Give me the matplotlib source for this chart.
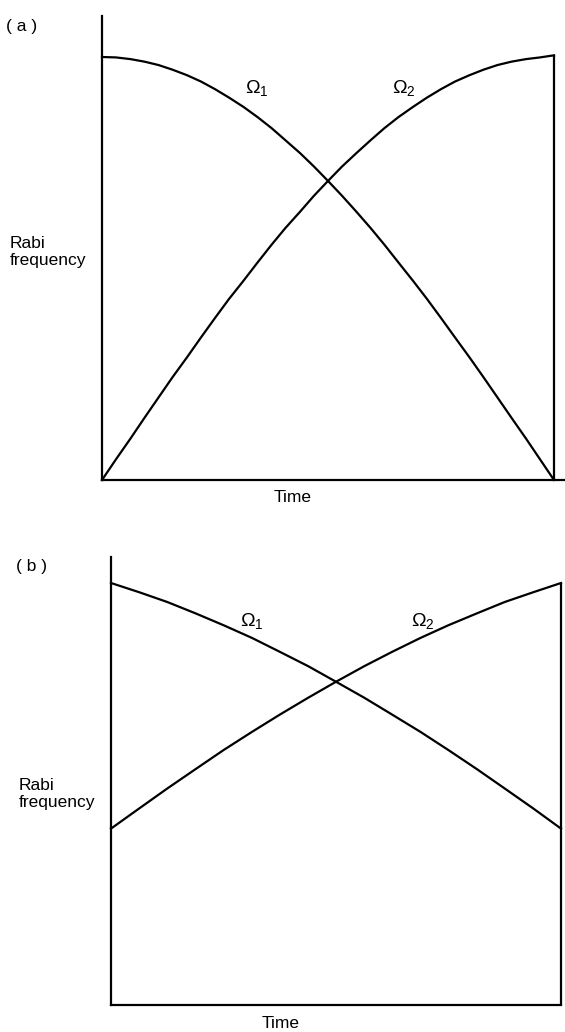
import matplotlib
matplotlib.use('Agg')
import matplotlib.pyplot as plt

# ---- data ----
time_a = [0.000, 0.031, 0.063, 0.094, 0.125, 0.156, 0.188, 0.219, 0.250,
          0.281, 0.313, 0.344, 0.375, 0.406, 0.438, 0.469, 0.500,
          0.531, 0.563, 0.594, 0.625, 0.656, 0.688, 0.719, 0.750,
          0.781, 0.813, 0.844, 0.875, 0.906, 0.938, 0.969, 1.000]
omega1_a = [1.000, 0.999, 0.995, 0.989, 0.981, 0.970, 0.957, 0.942, 0.924,
            0.904, 0.882, 0.858, 0.832, 0.803, 0.773, 0.741, 0.707,
            0.672, 0.634, 0.596, 0.556, 0.514, 0.471, 0.428, 0.383,
            0.337, 0.290, 0.243, 0.195, 0.147, 0.098, 0.049, 0.000]
omega2_a = [0.000, 0.049, 0.098, 0.147, 0.195, 0.243, 0.290, 0.337, 0.383,
            0.428, 0.471, 0.514, 0.556, 0.596, 0.634, 0.672, 0.707,
            0.741, 0.773, 0.803, 0.832, 0.858, 0.882, 0.904, 0.924,
            0.942, 0.957, 0.970, 0.981, 0.989, 0.995, 0.999, 1.004]

time_b = [0.000, 0.063, 0.125, 0.188, 0.250, 0.313, 0.375, 0.438, 0.500,
          0.563, 0.625, 0.688, 0.750, 0.813, 0.875, 0.938, 1.000]
omega1_b = [1.000, 0.978, 0.955, 0.928, 0.900, 0.870, 0.837, 0.803, 0.766,
            0.728, 0.688, 0.647, 0.604, 0.559, 0.513, 0.466, 0.418]
omega2_b = [0.418, 0.466, 0.513, 0.559, 0.604, 0.647, 0.688, 0.728, 0.766,
            0.803, 0.837, 0.870, 0.900, 0.928, 0.955, 0.978, 1.000]

panel_labels = ['( a )', '( b )']
ylabel = 'Rabi\nfrequency'
xlabel = 'Time'
curve_labels = [r'$\Omega_1$', r'$\Omega_2$']

# ---- figure ----
W, H = 565, 1032
plt.rcParams['font.family'] = ['Liberation Sans', 'DejaVu Sans']
plt.rcParams['mathtext.fontset'] = 'custom'
plt.rcParams['mathtext.rm'] = 'Liberation Sans'
plt.rcParams['mathtext.it'] = 'Liberation Sans'
plt.rcParams['mathtext.bf'] = 'Liberation Sans:bold'

fig = plt.figure(figsize=(W / 100, H / 100), dpi=100)
fig.patch.set_facecolor('white')

LW = 1.6


def px_axes(left, right, top, bottom):
    return fig.add_axes([left / W, 1 - bottom / H, (right - left) / W, (bottom - top) / H])


def style(ax):
    for s in ['top', 'right']:
        ax.spines[s].set_visible(False)
    for s in ['left', 'bottom']:
        ax.spines[s].set_linewidth(LW)
        ax.spines[s].set_color('black')
    ax.set_xticks([])
    ax.set_yticks([])


def ftext(x, y, s, **kw):
    fig.text(x / W, 1 - y / H, s, **kw)


# panel (a)
ax1 = px_axes(102, 565, 16, 480)
style(ax1)
ax1.set_xlim(0, (565 - 102) / (554 - 102))
ax1.set_ylim(0, (480 - 16) / (480 - 57))
ax1.plot(time_a, omega1_a, color='black', lw=LW, clip_on=False, solid_joinstyle='round')
ax1.plot(time_a, omega2_a, color='black', lw=LW, clip_on=False, solid_joinstyle='round')
ax1.vlines(time_a[-1], 0, omega2_a[-1], color='black', lw=LW, clip_on=False)

# panel (b)
ax2 = px_axes(111, 561, 557, 1005)
style(ax2)
ax2.set_xlim(0, 1)
ax2.set_ylim(0, (1005 - 557) / (1005 - 583))
ax2.plot(time_b, omega1_b, color='black', lw=LW, clip_on=False, solid_joinstyle='round')
ax2.plot(time_b, omega2_b, color='black', lw=LW, clip_on=False, solid_joinstyle='round')
ax2.vlines(time_b[-1], 0, omega2_b[-1], color='black', lw=LW, clip_on=False)

fs = 12.5
fo = 14
# texts panel a
ftext(6, 26, panel_labels[0], fontsize=fs, ha='left', va='center')
ftext(10, 252, ylabel, fontsize=fs, ha='left', va='center', linespacing=1.15)
ftext(293, 498, xlabel, fontsize=fs, ha='center', va='center')
ftext(257, 88, curve_labels[0], fontsize=fo, ha='center', va='center')
ftext(404, 88, curve_labels[1], fontsize=fo, ha='center', va='center')

# texts panel b
ftext(16, 567, panel_labels[1], fontsize=fs, ha='left', va='center')
ftext(19, 794, ylabel, fontsize=fs, ha='left', va='center', linespacing=1.15)
ftext(281, 1024, xlabel, fontsize=fs, ha='center', va='center')
ftext(252, 621, curve_labels[0], fontsize=fo, ha='center', va='center')
ftext(423, 621, curve_labels[1], fontsize=fo, ha='center', va='center')

fig.savefig('out.png', dpi=100, facecolor='white')
